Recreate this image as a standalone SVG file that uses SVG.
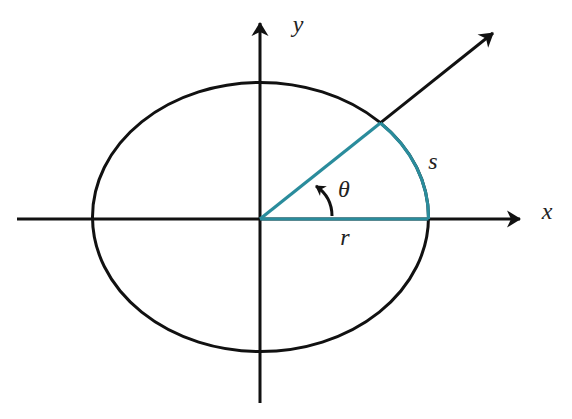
<svg xmlns="http://www.w3.org/2000/svg" width="572" height="419" viewBox="0 0 572 419">
<defs>
<style>
.ax{stroke:#111;stroke-width:3;fill:none}
.tl{stroke:#2a8c9c;stroke-width:3.2;fill:none}
.lb{font-family:"Liberation Serif",serif;font-style:italic;font-size:24px;fill:#222}
</style>
<marker id="ah" viewBox="-14 -9 16 18" markerWidth="16" markerHeight="18" refX="0" refY="0" orient="auto" markerUnits="userSpaceOnUse">
<path d="M1,0 L-13,-8.5 L-9,0 L-13,8.5 Z" fill="#111"/>
</marker>
<marker id="sm" viewBox="-10 -7 12 14" markerWidth="12" markerHeight="14" refX="0" refY="0" orient="auto" markerUnits="userSpaceOnUse">
<path d="M1,0 L-9,-6 L-6,0 L-9,6 Z" fill="#111"/>
</marker>
</defs>
<rect width="572" height="419" fill="#fff"/>
<g id="ellipse">
<ellipse cx="260.5" cy="217" rx="168" ry="134.5" class="ax"/>
</g>
<g id="connectors">
<line x1="17" y1="219" x2="520" y2="219" class="ax" marker-end="url(#ah)"/>
<line x1="260" y1="403" x2="260" y2="23" class="ax" marker-end="url(#ah)"/>
<line x1="380.4" y1="122.9" x2="493" y2="33" class="ax" marker-end="url(#ah)"/>
<line x1="260" y1="219" x2="380.4" y2="122.9" class="tl"/>
<line x1="260" y1="219" x2="428.5" y2="219" class="tl"/>
<path d="M380.4,122.9 A168,134.5 0 0,1 428.5,219" class="tl"/>
<path d="M332,216 Q332,197 316,186" stroke="#111" stroke-width="3" fill="none" marker-end="url(#sm)"/>
</g>
<g id="labels">
<text x="298" y="32" class="lb" text-anchor="middle">y</text>
<text x="547" y="219" class="lb" text-anchor="middle">x</text>
<text x="344" y="197" class="lb" text-anchor="middle">θ</text>
<text x="433" y="169" class="lb" text-anchor="middle">s</text>
<text x="345" y="245" class="lb" text-anchor="middle">r</text>
</g>
</svg>
